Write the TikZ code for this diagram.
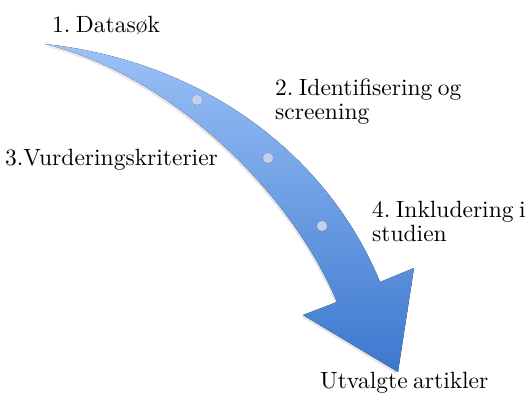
\documentclass[tikz,border=0pt]{standalone}
\usepackage{fontspec}
\usetikzlibrary{shadows}
\newfontfamily\lblfont{lmroman10-regular}[Extension=.otf, WordSpace=0.7]
\definecolor{arrLight}{HTML}{9BC1F7}
\definecolor{arrDark}{HTML}{3C78CE}
\definecolor{dotFill}{HTML}{C6D0EC}
\frenchspacing

\begin{document}
\begin{tikzpicture}[x=1pt, y=-1pt,
      lbl/.style={anchor=base west, inner sep=0pt, align=left,
        font=\lblfont\fontsize{23.5}{24}\selectfont},
      dot/.style={circle, fill=dotFill, inner sep=0pt, minimum size=10pt,
        drop shadow={shadow xshift=-0.5pt, shadow yshift=-1pt, opacity=0.3}}]
    \useasboundingbox (0,0) rectangle (530,392);
    % curved arrow
    \fill[top color=arrLight, bottom color=arrDark,
        drop shadow={shadow xshift=-1.5pt, shadow yshift=-2pt, opacity=0.2}]
      (45,44) .. controls (210,62) and (330,160) .. (380,282)
      -- (414,268) -- (398,372) -- (303,315) -- (337,302)
      .. controls (290,190) and (170,75) .. (45,44) -- cycle;
    \node[dot] (p1) at (197,100) {};
    \node[dot] (p2) at (268,158) {};
    \node[dot] (p3) at (322,226) {};
    % labels (base = last line)
    \node[lbl] (datasok) at (52,32) {1. Datas\o k};
    \node[lbl] (ident) at (275,119) {2. Identifisering og\\screening};
    \node[lbl] (vurd) at (5,165) {3.Vurderingskriterier};
    \node[lbl] (inkl) at (372,241) {4. Inkludering i\\studien};
    \node[lbl] (utvalgt) at (320,388) {Utvalgte artikler};
  \end{tikzpicture}
\end{document}
